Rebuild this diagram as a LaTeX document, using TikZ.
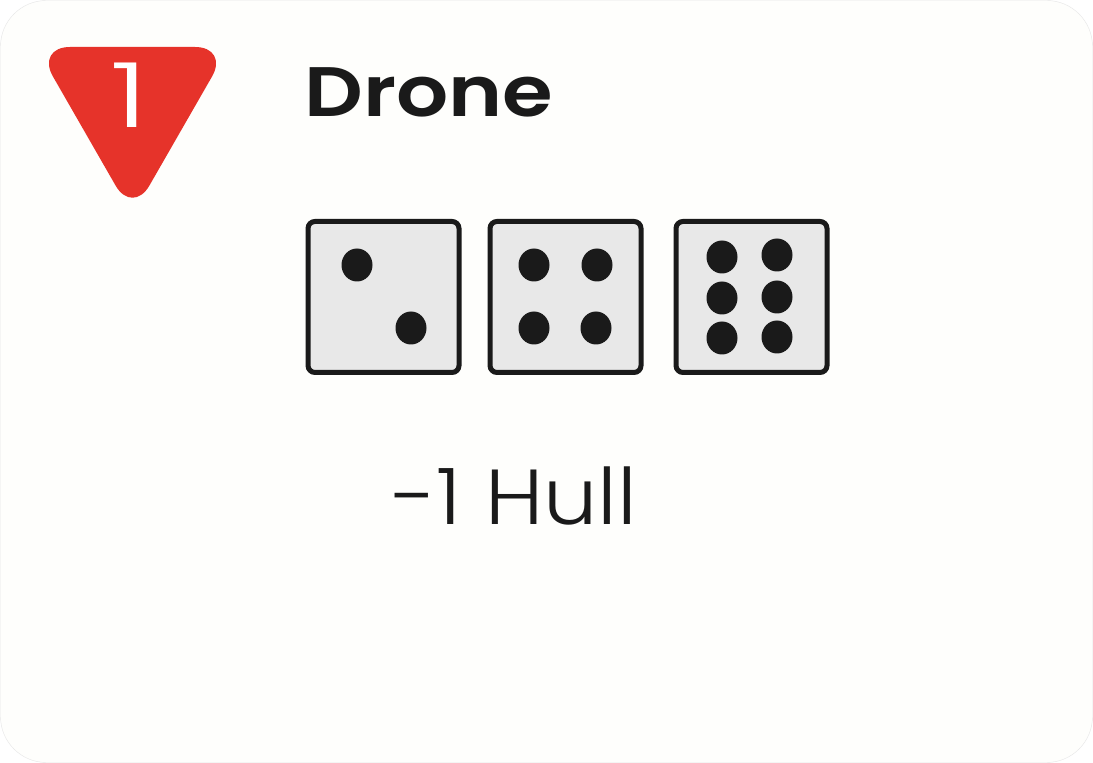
\documentclass[tikz,border=0pt]{standalone}
\usepackage{fontspec}
\setmainfont{Poppins}
\newfontfamily\titlefont[UprightFont=* SemiBold,FakeStretch=1.17]{Poppins}
\newfontfamily\thinfont[UprightFont=* Light,FakeStretch=1.1]{Poppins}
\newfontfamily\costfont[UprightFont=* Light,FakeStretch=1.45]{Poppins}
\usetikzlibrary{positioning,calc,shapes.geometric}
\definecolor{Card}{HTML}{FEFEFC}
\definecolor{CardEdge}{HTML}{E6E6E6}
\definecolor{Badge}{HTML}{E6332A}
\definecolor{Ink}{HTML}{1A1A1A}
\definecolor{DieFace}{HTML}{E8E8E8}

\tikzset{
	diebox/.style={
		draw=Ink,
		fill=DieFace,
		line width=2.5pt,
		rounded corners=3.5pt,
		minimum width=75.5pt,
		minimum height=75.5pt,
		inner sep=0pt
	},
	pip/.style={
		ellipse,
		fill=Ink,
		minimum width=15.5pt,
		minimum height=16.5pt,
		inner sep=0pt
	}
}

\begin{document}
\begin{tikzpicture}[x=0.5pt,y=-0.5pt,node distance=14pt]
			
			\useasboundingbox (0,0) rectangle (1093,763);
			\fill[white] (0,0) rectangle (1093,763);
			
			% ---------------------------------------------------------
			% CARD
			% ---------------------------------------------------------
			
			\node[
			draw=CardEdge,
			fill=Card,
			line width=0.2pt,
			rounded corners=23pt,
			minimum width=546pt,
			minimum height=381pt,
			inner sep=0pt
			]
			(card) at (546.5,381.5)
			{};
			
			% ---------------------------------------------------------
			% BADGE
			% ---------------------------------------------------------
			
			\coordinate (badgeleft) at (36,47);
			\coordinate (badgeright) at (229,47);
			\coordinate (badgetip) at (132.5,215);
			
			\fill[Badge,rounded corners=17pt]
			(badgeleft) -- (badgeright) -- (badgetip) -- cycle;
			
			\node[
			text=white,
			anchor=base,
			inner sep=0pt,
			font=\costfont\fontsize{45pt}{45pt}\selectfont
			]
			(cost) at (130,128)
			{1};
			
			% ---------------------------------------------------------
			% TEXTS
			% ---------------------------------------------------------
			
			\node[
			text=Ink,
			anchor=base west,
			inner sep=0pt,
			font=\titlefont\fontsize{35pt}{35pt}\selectfont
			]
			(title) at (304,117)
			{Drone};
			
			\node[
			text=Ink,
			anchor=base west,
			inner sep=0pt,
			font=\thinfont\fontsize{39pt}{39pt}\selectfont
			]
			(effect) at (392,525)
			{-1 Hull};
			
			% ---------------------------------------------------------
			% DICE
			% ---------------------------------------------------------
			
			\node[diebox] (dieone) at (383.5,297) {};
			
			\node[diebox,right=13pt of dieone] (dietwo) {};
			
			\node[diebox,right=15pt of dietwo] (diethree) {};
			
			% ---------------------------------------------------------
			% PIPS
			% ---------------------------------------------------------
			
			\node[pip] (pipa) at (357,265) {};
			\node[pip] (pipb) at (411,328) {};
			
			\node[pip] (pipc) at (534,265) {};
			\node[pip] (pipd) at (597,265) {};
			\node[pip] (pipe) at (534,328) {};
			\node[pip] (pipf) at (596,328) {};
			
			\node[pip] (pipg) at (722,257) {};
			\node[pip] (piph) at (777,255) {};
			\node[pip] (pipi) at (722,298) {};
			\node[pip] (pipj) at (777,297) {};
			\node[pip] (pipk) at (722,338) {};
			\node[pip] (pipl) at (777,337) {};
			
		\end{tikzpicture}
\end{document}
